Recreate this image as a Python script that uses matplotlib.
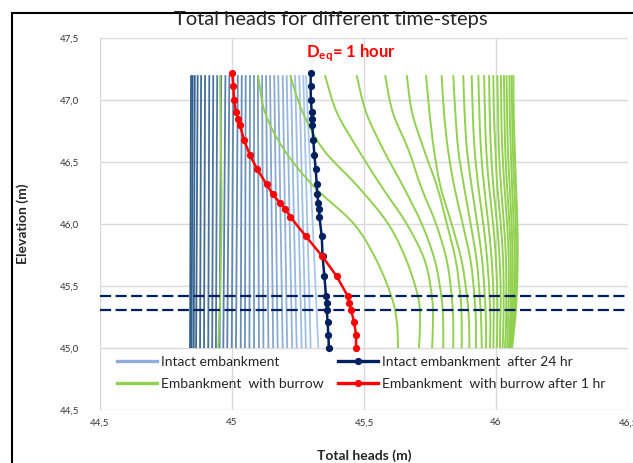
import numpy as np
import matplotlib
matplotlib.use("Agg")
import matplotlib.pyplot as plt
from matplotlib.path import Path
from matplotlib.patches import PathPatch, Rectangle
from matplotlib.colors import to_rgb
from matplotlib.lines import Line2D

FONT = "Lato"
plt.rcParams['font.family'] = [FONT, 'DejaVu Sans']
plt.rcParams['mathtext.fontset'] = 'custom'
plt.rcParams['mathtext.rm'] = FONT
plt.rcParams['mathtext.bf'] = FONT + ':bold'

# ---------------- data ----------------
title = "Total heads for different time-steps"
xlabel = "Total heads (m)"
ylabel = "Elevation (m)"
xticks = [44.5, 45.0, 45.5, 46.0, 46.5]
xtick_labels = ["44,5", "45", "45,5", "46", "46,5"]
yticks = [44.5, 45.0, 45.5, 46.0, 46.5, 47.0, 47.5]
ytick_labels = ["44,5", "45,0", "45,5", "46,0", "46,5", "47,0", "47,5"]

# Intact embankment (time steps): head at top (47.2 m) and bottom (45.0 m)
intact_elev = [47.2, 45.0]
intact_top = [44.845, 44.851, 44.859, 44.870, 44.883, 44.898, 44.914, 44.929, 44.944,
              44.959, 44.975, 44.990, 45.005, 45.022, 45.037, 45.052, 45.068, 45.083,
              45.098, 45.114, 45.129, 45.144, 45.160, 45.175, 45.192, 45.207, 45.223,
              45.239, 45.255, 45.270, 45.280]
intact_bottom = [44.841, 44.847, 44.855, 44.864, 44.879, 44.894, 44.910, 44.925, 44.939,
                 44.953, 44.967, 44.982, 44.999, 45.015, 45.033, 45.049, 45.066, 45.083,
                 45.102, 45.119, 45.138, 45.156, 45.173, 45.192, 45.209, 45.228, 45.245,
                 45.264, 45.280, 45.298, 45.327]

# Embankment with burrow (time steps): heads at these elevations
burrow_elev = [47.2, 46.9, 46.6, 46.3, 46.0, 45.7, 45.4, 45.2, 45.0]
burrow_heads = [
    [44.955, 44.956, 44.958, 44.960, 44.960, 44.958, 44.955, 44.951, 44.948],
    [45.099, 45.125, 45.197, 45.311, 45.462, 45.549, 45.606, 45.625, 45.629],
    [45.220, 45.268, 45.346, 45.478, 45.592, 45.662, 45.706, 45.712, 45.708],
    [45.352, 45.397, 45.478, 45.567, 45.662, 45.731, 45.758, 45.761, 45.758],
    [45.472, 45.508, 45.573, 45.649, 45.719, 45.769, 45.794, 45.800, 45.800],
    [45.580, 45.609, 45.668, 45.716, 45.773, 45.814, 45.833, 45.838, 45.838],
    [45.662, 45.682, 45.727, 45.777, 45.814, 45.848, 45.866, 45.870, 45.870],
    [45.735, 45.748, 45.765, 45.790, 45.832, 45.870, 45.891, 45.898, 45.899],
    [45.794, 45.803, 45.818, 45.842, 45.874, 45.904, 45.919, 45.924, 45.924],
    [45.838, 45.846, 45.857, 45.879, 45.904, 45.927, 45.939, 45.944, 45.946],
    [45.876, 45.881, 45.890, 45.908, 45.929, 45.948, 45.958, 45.962, 45.962],
    [45.908, 45.912, 45.919, 45.933, 45.952, 45.967, 45.976, 45.979, 45.977],
    [45.933, 45.937, 45.943, 45.955, 45.971, 45.984, 45.991, 45.991, 45.990],
    [45.955, 45.958, 45.963, 45.974, 45.989, 46.000, 46.005, 46.005, 46.003],
    [45.974, 45.976, 45.981, 45.990, 46.004, 46.014, 46.018, 46.016, 46.015],
    [45.990, 45.992, 45.998, 46.005, 46.018, 46.027, 46.029, 46.028, 46.025],
    [46.005, 46.008, 46.011, 46.019, 46.030, 46.038, 46.039, 46.038, 46.034],
    [46.019, 46.020, 46.024, 46.032, 46.042, 46.048, 46.048, 46.045, 46.043],
    [46.030, 46.032, 46.035, 46.042, 46.051, 46.056, 46.056, 46.053, 46.049],
    [46.040, 46.042, 46.045, 46.052, 46.059, 46.063, 46.062, 46.058, 46.053],
    [46.051, 46.052, 46.056, 46.061, 46.067, 46.071, 46.068, 46.063, 46.056],
    [46.059, 46.061, 46.064, 46.069, 46.075, 46.077, 46.073, 46.067, 46.058],
    [46.066, 46.067, 46.071, 46.076, 46.081, 46.082, 46.078, 46.071, 46.061],
]

# Measured series with markers
marker_elev = [47.22, 47.11, 47.0, 46.9, 46.845, 46.8, 46.68, 46.555, 46.44, 46.32,
               46.24, 46.17, 46.125, 46.06, 45.9, 45.74, 45.58, 45.42, 45.365, 45.31,
               45.21, 45.105, 45.0]
intact_24hr = [45.298, 45.298, 45.299, 45.302, 45.302, 45.304, 45.308, 45.312, 45.317,
               45.321, 45.323, 45.327, 45.330, 45.331, 45.340, 45.343, 45.350, 45.356,
               45.359, 45.359, 45.362, 45.365, 45.367]
burrow_1hr = [45.001, 45.005, 45.008, 45.015, 45.024, 45.030, 45.045, 45.068, 45.096,
              45.131, 45.154, 45.182, 45.201, 45.220, 45.280, 45.342, 45.396, 45.438,
              45.444, 45.451, 45.462, 45.470, 45.470]

burrow_levels = [45.42, 45.31]   # dashed horizontal lines
annotation = "= 1 hour"
legend_labels = ["Intact embankment", "Embankment  with burrow",
                 "Intact embankment  after 24 hr", "Embankment  with burrow after 1 hr"]

# ---------------- figure ----------------
W, H = 633, 463
fig = plt.figure(figsize=(W / 100, H / 100), dpi=100)
ax = fig.add_axes([100 / W, 1 - 410 / H, 528 / W, 372 / H])
ax.set_xlim(44.5, 46.5)
ax.set_ylim(44.5, 47.5)

ax.set_xticks(xticks)
ax.set_xticklabels(xtick_labels)
ax.set_yticks(yticks)
ax.set_yticklabels(ytick_labels)
ax.tick_params(length=0, labelsize=7, colors='#333333')
ax.tick_params(axis='y', pad=15)
ax.tick_params(axis='x', pad=6)
ax.grid(True, color='#D9D9D9', lw=1.0)
ax.set_axisbelow(True)
for s in ax.spines.values():
    s.set_visible(False)

# intact embankment lines (dark -> light)
c0 = np.array(to_rgb('#2F5D8A'))
c1 = np.array(to_rgb('#A9C6EC'))
n = len(intact_top)
for i, (xt, xb) in enumerate(zip(intact_top, intact_bottom)):
    f = i / (n - 1)
    col = c0 * (1 - f) + c1 * f
    ax.plot([xt, xb], intact_elev, color=col, lw=1.3, solid_capstyle='butt', zorder=2)


def smooth_path(xs, ys):
    pts = np.column_stack([xs, ys])
    verts = [pts[0]]
    codes = [Path.MOVETO]
    m = len(pts)
    for i in range(m - 1):
        p0 = pts[i - 1] if i > 0 else pts[i]
        p1 = pts[i]
        p2 = pts[i + 1]
        p3 = pts[i + 2] if i + 2 < m else pts[i + 1]
        verts += [p1 + (p2 - p0) / 6, p2 - (p3 - p1) / 6, p2]
        codes += [Path.CURVE4] * 3
    return Path(verts, codes)


green = '#92D050'
for heads in burrow_heads:
    ax.add_patch(PathPatch(smooth_path(heads, burrow_elev), fill=False,
                           edgecolor=green, lw=1.4, zorder=3))

navy = '#002060'
for lv in burrow_levels:
    ax.axhline(lv, color=navy, lw=1.6, dashes=(5, 2), zorder=4)

ax.plot(intact_24hr, marker_elev, color=navy, lw=1.8, marker='o', ms=4.2, zorder=5)
ax.plot(burrow_1hr, marker_elev, color='#FF0000', lw=1.8, marker='o', ms=4.2, zorder=6)

# legend
handles = [
    Line2D([], [], color='#8FAADC', lw=2.4),
    Line2D([], [], color=green, lw=2.4),
    Line2D([], [], color=navy, lw=2.4, marker='o', ms=4.2),
    Line2D([], [], color='#FF0000', lw=2.4, marker='o', ms=4.2),
]
leg = ax.legend(handles, legend_labels, ncol=2, loc='upper left',
                bbox_to_anchor=(17 / 528, (410 - 356) / 372),
                frameon=False, fontsize=10, handlelength=2.9, handletextpad=0.3,
                columnspacing=1.0, labelspacing=0.72, borderaxespad=0.0,
                borderpad=0.0)
for t in leg.get_texts():
    t.set_color('#262626')

# annotation
ax.text(45.28, 47.38, r'$\mathbf{D_{eq}}$' + annotation, color='#FF0000',
        fontsize=12, fontweight='bold', va='center', ha='left')

ax.set_xlabel(xlabel, fontsize=10, fontweight='bold', color='#262626', labelpad=16)
ax.set_ylabel(ylabel, fontsize=10, fontweight='bold', color='#262626', labelpad=22)
fig.text(331 / W, 1 - 19 / H, title, ha='center', va='center', fontsize=14.5, color='#262626')

fig.add_artist(Rectangle((12 / W, -0.2), 1.5, 1 - 13 / H + 0.2, transform=fig.transFigure,
                         fill=False, edgecolor='black', lw=1.5, clip_on=False))

fig.savefig("out.png", dpi=100)
